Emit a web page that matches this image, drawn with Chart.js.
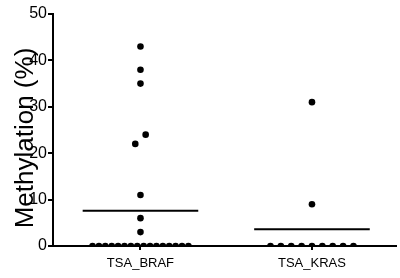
<!DOCTYPE html>
<html>
<head>
<meta charset="utf-8">
<script src="https://cdn.jsdelivr.net/npm/chart.js@4"></script>
<style>
  html, body { margin: 0; padding: 0; background: #fff; }
  canvas { display: block; }
</style>
</head>
<body>
<canvas id="c" width="400" height="278"></canvas>
<script>
// ---- data ----
const categories = ["TSA_BRAF", "TSA_KRAS"];
const brafValues = [43, 38, 35, 24, 22, 11, 6, 3, 0, 0, 0, 0, 0, 0, 0, 0, 0, 0, 0, 0, 0, 0, 0, 0];
const krasValues = [31, 9, 0, 0, 0, 0, 0, 0, 0, 0, 0];
const yTicks = [0, 10, 20, 30, 40, 50];
const yTitle = "Methylation (%)";

// ---- layout helpers (beeswarm-like spreading of close values) ----
const clusterGap = 2.5;      // values closer than this are spread sideways
const maxSpacing = 0.0605;   // x-units between neighbouring dots
const maxWidth = 0.559;      // max spread width of a cluster, x-units
const meanHalfWidth = 0.337;

function layoutGroup(values, center) {
  const idx = values.map((v, i) => i).sort((a, b) => values[a] - values[b]);
  const clusters = [];
  let cur = [];
  idx.forEach(i => {
    if (cur.length && values[i] - values[cur[cur.length - 1]] > clusterGap) {
      clusters.push(cur); cur = [];
    }
    cur.push(i);
  });
  if (cur.length) clusters.push(cur);
  const pts = [];
  clusters.forEach(cl => {
    const n = cl.length;
    const sp = n > 1 ? Math.min(maxSpacing, maxWidth / (n - 1)) : 0;
    cl.forEach((i, k) => {
      pts.push({ x: center + (k - (n - 1) / 2) * sp, y: values[i] });
    });
  });
  return pts;
}
const mean = a => a.reduce((s, v) => s + v, 0) / a.length;
function meanLine(values, center) {
  const m = mean(values);
  return [{ x: center - meanHalfWidth, y: m }, { x: center + meanHalfWidth, y: m }];
}

const groups = [brafValues, krasValues];
const datasets = [];
groups.forEach((vals, g) => {
  datasets.push({
    type: 'scatter',
    data: layoutGroup(vals, g),
    pointRadius: 3.3,
    pointBackgroundColor: '#000',
    pointBorderWidth: 0,
    showLine: false
  });
  datasets.push({
    type: 'line',
    data: meanLine(vals, g),
    borderColor: '#000',
    borderWidth: 2,
    pointRadius: 0,
    fill: false
  });
});

const titlePlugin = {
  id: 'ytitle',
  afterDraw(chart) {
    const ctx = chart.ctx;
    ctx.save();
    ctx.translate(26, 138);
    ctx.rotate(-Math.PI / 2);
    ctx.font = '26px "Liberation Sans", Arial, sans-serif';
    ctx.fillStyle = '#000';
    ctx.textAlign = 'center';
    ctx.textBaseline = 'middle';
    ctx.fillText(yTitle, 0, 0);
    ctx.restore();
  }
};

new Chart(document.getElementById('c'), {
  data: { datasets },
  plugins: [titlePlugin],
  options: {
    responsive: false,
    animation: false,
    layout: { padding: { top: 14, left: 0, right: 0, bottom: 0 } },
    plugins: { legend: { display: false }, tooltip: { enabled: false } },
    scales: {
      x: {
        type: 'linear',
        min: -0.51,
        max: 1.49,
        afterBuildTicks: s => { s.ticks = categories.map((c, i) => ({ value: i })); },
        afterFit: s => { s.height = 32; },
        ticks: {
          callback: v => categories[v],
          color: '#000',
          font: { family: '"Liberation Sans", Arial, sans-serif', size: 13 },
          padding: 6,
          maxRotation: 0
        },
        grid: { drawOnChartArea: false, drawTicks: true, tickLength: 4, color: '#000', lineWidth: 2 },
        border: { display: true, color: '#000', width: 2 }
      },
      y: {
        min: 0,
        max: 50,
        afterBuildTicks: s => { s.ticks = yTicks.map(v => ({ value: v })); },
        afterFit: s => { s.width = 53; },
        ticks: {
          color: '#000',
          font: { family: '"Liberation Sans", Arial, sans-serif', size: 16 },
          padding: 1
        },
        grid: { drawOnChartArea: false, drawTicks: true, tickLength: 5, color: '#000', lineWidth: 2 },
        border: { display: true, color: '#000', width: 2 }
      }
    }
  }
});
</script>
</body>
</html>
